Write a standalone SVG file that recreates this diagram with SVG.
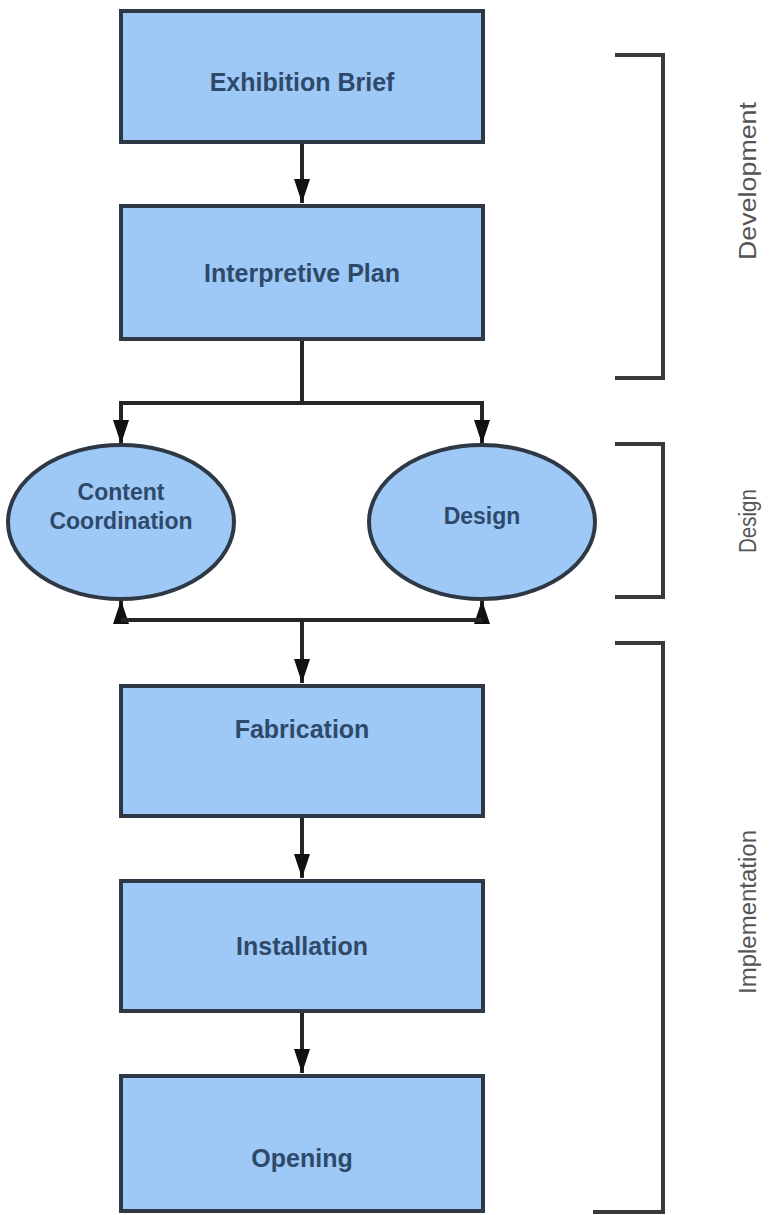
<svg xmlns="http://www.w3.org/2000/svg" width="773" height="1215" viewBox="0 0 773 1215">
<defs>
<style>
.box{fill:#9ec8f6;stroke:#2f3945;stroke-width:4}
.lbl{font-family:"Liberation Sans",Arial,sans-serif;font-weight:bold;font-size:25px;fill:#2e4a6b;text-anchor:middle}
.lbl-s{font-size:23px}
.conn{fill:none;stroke:#262626;stroke-width:4}
.br{fill:none;stroke:#3a3a3a;stroke-width:4}
.side{font-family:"Liberation Sans",Arial,sans-serif;font-size:23px;fill:#555;text-anchor:middle}
</style>
<marker id="arr" viewBox="0 0 24 16" refX="24" refY="8" markerWidth="24" markerHeight="16" markerUnits="userSpaceOnUse" orient="auto">
<path d="M0,0 L24,8 L0,16 z" fill="#111"/>
</marker>
</defs>
<rect width="773" height="1215" fill="#fff"/>
<g id="connectors">
<path class="conn" d="M302,143 V203" marker-end="url(#arr)"/>
<path class="conn" d="M302,340 V403"/>
<path class="conn" d="M121,403 H482"/>
<path class="conn" d="M121,401 V444" marker-end="url(#arr)"/>
<path class="conn" d="M482,401 V444" marker-end="url(#arr)"/>
<path class="conn" d="M121,622 V600" marker-end="url(#arr)"/>
<path class="conn" d="M482,622 V600" marker-end="url(#arr)"/>
<path class="conn" d="M121,620 H482"/>
<path class="conn" d="M302,620 V683" marker-end="url(#arr)"/>
<path class="conn" d="M302,817 V878" marker-end="url(#arr)"/>
<path class="conn" d="M302,1012 V1073" marker-end="url(#arr)"/>
</g>
<g id="exhibition-brief">
<rect class="box" x="121" y="11" width="362" height="131"/>
<text class="lbl" x="302" y="91">Exhibition Brief</text>
</g>
<g id="interpretive-plan">
<rect class="box" x="121" y="206" width="362" height="133"/>
<text class="lbl" x="302" y="282">Interpretive Plan</text>
</g>
<g id="content-coordination">
<ellipse class="box" cx="121" cy="522" rx="113" ry="77"/>
<text class="lbl lbl-s" x="121" y="500">Content</text>
<text class="lbl lbl-s" x="121" y="529">Coordination</text>
</g>
<g id="design">
<ellipse class="box" cx="482" cy="522" rx="113" ry="77"/>
<text class="lbl lbl-s" x="482" y="524">Design</text>
</g>
<g id="fabrication">
<rect class="box" x="121" y="686" width="362" height="130"/>
<text class="lbl" x="302" y="738">Fabrication</text>
</g>
<g id="installation">
<rect class="box" x="121" y="881" width="362" height="130"/>
<text class="lbl" x="302" y="955">Installation</text>
</g>
<g id="opening">
<rect class="box" x="121" y="1076" width="362" height="135"/>
<text class="lbl" x="302" y="1167">Opening</text>
</g>
<g id="bracket-development">
<path class="br" d="M615,55 H663 V378 H615"/>
<text class="side" transform="translate(756,181) rotate(-90)" textLength="158" lengthAdjust="spacingAndGlyphs">Development</text>
</g>
<g id="bracket-design">
<path class="br" d="M615,444 H663 V597 H615"/>
<text class="side" transform="translate(756,521) rotate(-90)" textLength="64" lengthAdjust="spacingAndGlyphs">Design</text>
</g>
<g id="bracket-implementation">
<path class="br" d="M615,643 H663 V1212 H593"/>
<text class="side" transform="translate(756,912) rotate(-90)" textLength="164" lengthAdjust="spacingAndGlyphs">Implementation</text>
</g>
</svg>
